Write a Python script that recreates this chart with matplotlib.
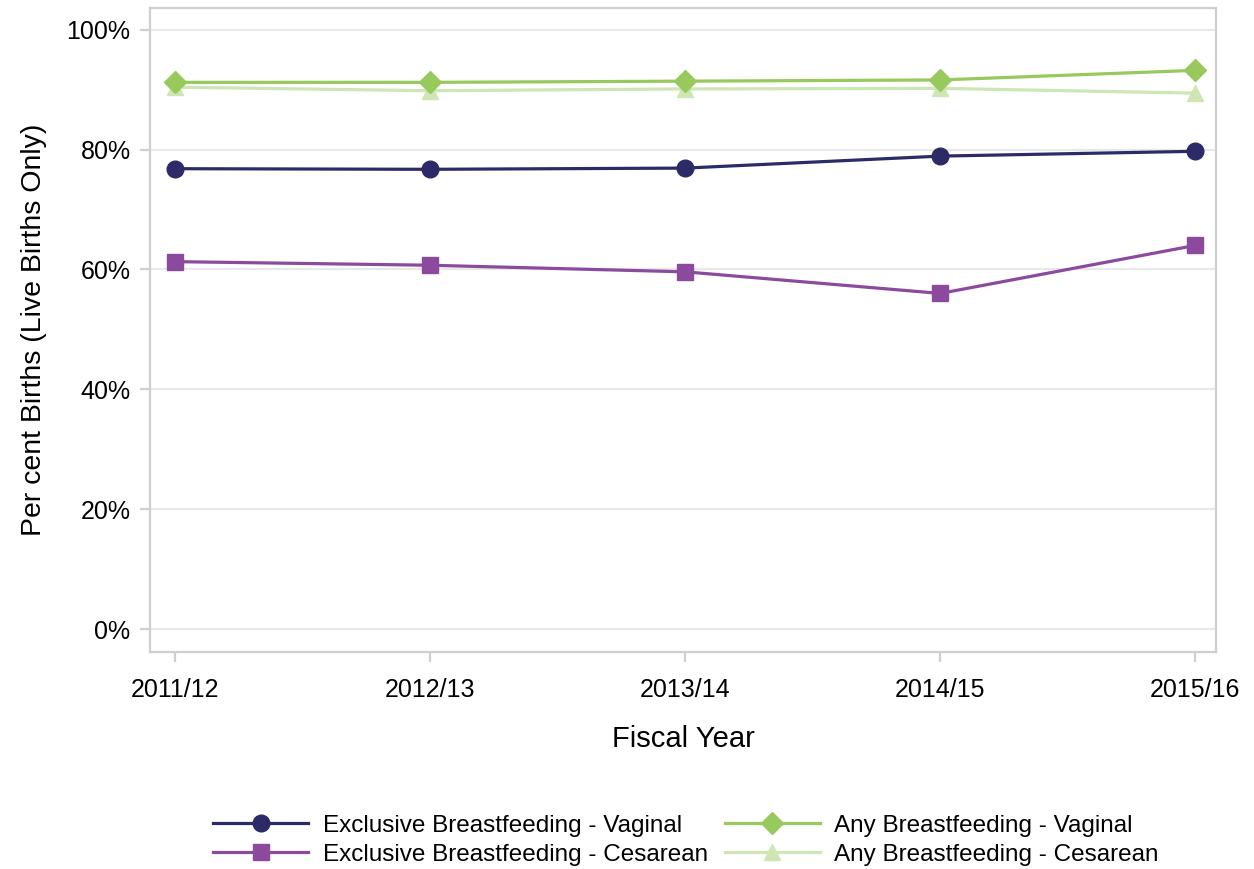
import matplotlib
matplotlib.use("Agg")
import matplotlib.pyplot as plt
from matplotlib.ticker import FuncFormatter

plt.rcParams["font.family"] = ["Liberation Sans", "DejaVu Sans"]

# Breastfeeding rates by fiscal year (% of live births)
years = ["2011/12", "2012/13", "2013/14", "2014/15", "2015/16"]
excl_vaginal = [76.8, 76.7, 76.9, 78.9, 79.7]
excl_cesarean = [61.3, 60.7, 59.6, 56.0, 64.0]
any_vaginal = [91.2, 91.2, 91.4, 91.6, 93.2]
any_cesarean = [90.4, 89.8, 90.1, 90.2, 89.4]

frame = "#cfcfcf"

fig = plt.figure(figsize=(12.54, 8.69), dpi=100)
ax = fig.add_axes([0.1196, 0.2497, 0.8501, 0.7411])

x = range(len(years))
ax.plot(x, excl_vaginal, color="#2c2b68", lw=2.3, marker="o", ms=12,
        label="Exclusive Breastfeeding - Vaginal", zorder=4)
ax.plot(x, excl_cesarean, color="#8c4a9f", lw=2.3, marker="s", ms=11,
        label="Exclusive Breastfeeding - Cesarean", zorder=4)
ax.plot(x, any_vaginal, color="#97c95c", lw=2.3, marker="D", ms=11,
        label="Any Breastfeeding - Vaginal", zorder=4)
ax.plot(x, any_cesarean, color="#cde6b4", lw=2.3, marker="^", ms=11.5,
        label="Any Breastfeeding - Cesarean", zorder=3)

ax.set_xlim(-0.1, 4.082)
ax.set_ylim(-3.8, 103.6)
ax.set_xticks(list(x))
ax.set_xticklabels(years)
ax.set_yticks([0, 20, 40, 60, 80, 100])
ax.yaxis.set_major_formatter(FuncFormatter(lambda v, p: f"{v:.0f}%"))

ax.grid(axis="y", color="#e8e8e8", lw=1.6, zorder=0)
ax.set_axisbelow(True)
for s in ax.spines.values():
    s.set_color(frame)
    s.set_linewidth(1.6)
ax.tick_params(axis="both", colors=frame, labelcolor="black", labelsize=18,
               length=7, width=1.6)
ax.tick_params(axis="y", pad=7)
ax.tick_params(axis="x", pad=12)

ax.set_xlabel("Fiscal Year", fontsize=21, labelpad=16)
ax.set_ylabel("Per cent Births (Live Births Only)", fontsize=20.5, labelpad=14)

fig.legend(loc="center", bbox_to_anchor=(0.547, 0.033), ncol=2, frameon=False,
           fontsize=17.5, handlelength=3.9, columnspacing=0.7,
           handletextpad=0.6, labelspacing=0.28, borderpad=0)

fig.savefig("out.png", dpi=100)
